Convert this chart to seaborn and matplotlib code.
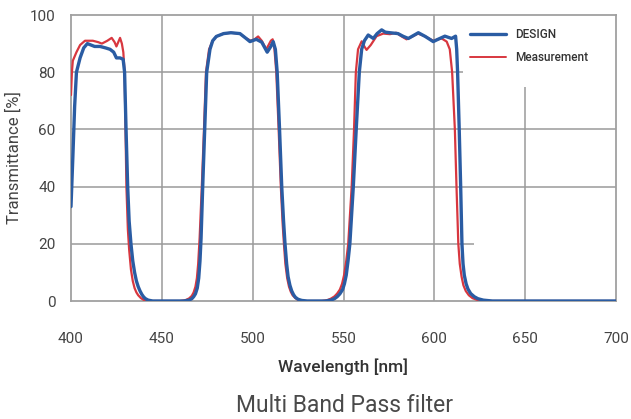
import matplotlib
matplotlib.use("Agg")
import matplotlib.pyplot as plt
import seaborn as sns
import pandas as pd
from matplotlib.lines import Line2D

# ---- data ----
design_wl = [400, 401, 402, 403, 405, 407, 409, 411, 413, 416, 419, 421.5, 423.5, 425, 427, 428.7,
             429.5, 430.3, 431.2, 432, 433, 434, 435, 436, 437, 438, 439, 440, 441, 442.5, 445,
             462, 465, 466.5, 467.5, 468.5, 469.5, 470.3, 471, 471.6, 472.5, 473.6, 474.7, 476.5,
             478, 480, 484, 488, 493, 496, 498.5, 502, 505, 508, 510, 511.3, 512.5,
             513.5, 514.8, 516, 517, 517.8, 518.7, 519.5, 520.5, 521.5, 522.5, 523.5, 525, 527, 530,
             540, 543, 545, 546.5, 548, 549.5, 550.5, 551.5, 552.5, 553.5, 555.4, 557, 558.7, 560,
             561.5, 563.6, 566.4, 568.5, 571, 573, 575.6, 580, 583, 585.7, 589, 591.2, 595, 599.4,
             602, 605.8, 609.5, 611.7, 612.3,
             612.8, 613.7, 614.5, 615.2, 615.8, 616.5, 617.5, 618.5, 620, 622, 624, 627, 632, 700]
design_t = [33, 50, 68, 80, 85, 88.5, 90, 89.5, 89, 89, 88.5, 88, 87, 85, 85, 84.5,
            80, 60, 40, 28, 20, 14, 10, 7, 5, 3.5, 2.3, 1.4, 0.8, 0.3, 0,
            0, 0.3, 0.8, 1.5, 2.5, 4.5, 8, 14, 22, 40, 60, 80, 88,
            91, 92.5, 93.5, 93.8, 93.5, 92, 90.7, 91.5, 90.5, 87, 89, 90.7, 88,
            80, 60, 40, 28, 20, 13, 8.5, 5.5, 3.5, 2.2, 1.3, 0.6, 0.2, 0,
            0, 0.3, 0.8, 1.5, 2.5, 4, 6, 9, 14, 20, 40, 60, 80, 88,
            91, 93, 91.8, 93.5, 94.8, 94, 93.8, 93.5, 92.5, 91.8, 93, 93.8, 92.5, 90.7,
            91.5, 92.6, 91.8, 92.6, 88,
            80, 60, 40, 20, 13, 9, 6, 4.2, 2.6, 1.5, 0.8, 0.3, 0, 0]

meas_wl = [400, 400.5, 401, 403, 405, 407.7, 412, 415, 417, 420, 422.4, 424, 425, 426, 427, 428,
           428.8, 429.5, 430, 430.5, 431.3, 432, 433, 434, 435, 436, 437, 438.5, 440, 442,
           460, 463, 465, 466.5, 467.5, 468.5, 469.3, 470, 470.8, 472, 473.2, 474.3, 476, 478,
           480, 484, 488, 493, 496, 499, 501, 503, 505, 507.5, 510, 511, 512,
           513, 514.3, 515.5, 516.5, 517.2, 518, 519, 520, 521, 522, 523.5, 525, 528,
           538, 541, 543, 545, 546.5, 548, 549.2, 550.3, 551.5, 552.6, 554.5, 555.8, 556.8, 558,
           560, 561.5, 562.7, 565, 568.2, 571.9, 575.6, 579, 582, 584.7, 588, 591, 595, 599.4,
           602, 604, 606.8, 608.5,
           609.8, 611.3, 612.2, 613.2, 614, 615, 616, 617.3, 619, 621, 623.5, 627, 700]
meas_t = [72, 80, 84, 87, 89.5, 91, 91, 90.5, 90, 91, 92, 90.5, 89, 90.5, 92, 90,
          87, 80, 60, 40, 25, 18, 11, 7, 4.5, 3, 2, 1, 0.4, 0,
          0, 0.3, 0.9, 1.8, 3, 5, 8, 13, 22, 40, 60, 80, 88, 91,
          92.5, 93.5, 93.8, 93.5, 92, 91, 91.5, 92.5, 91, 88, 91, 91.5, 88,
          80, 60, 40, 27, 20, 13, 8, 5, 3.2, 2, 1, 0.4, 0,
          0, 0.3, 0.8, 1.6, 2.6, 4, 6, 9, 14, 20, 40, 60, 80, 88,
          90.8, 89, 87.8, 89.5, 92.6, 93.5, 93.3, 93.8, 92.5, 91.5, 92.5, 93.5, 92.5, 91,
          91.5, 91.8, 90.7, 88,
          80, 60, 40, 20, 13, 8.5, 5.5, 3.5, 2, 1, 0.4, 0, 0]

x_ticks = [400, 450, 500, 550, 600, 650, 700]
y_ticks = [0, 20, 40, 60, 80, 100]
series_names = ["DESIGN", "Measurement"]
series_colors = ["#2a5ca3", "#d8373f"]

# ---- plot ----
sns.set_theme(style="white")
plt.rcParams["font.family"] = ["Roboto", "DejaVu Sans"]

fig = plt.figure(figsize=(6.31, 4.19), dpi=100)
ax = fig.add_axes([71 / 631, 1 - 301 / 419, 545 / 631, 286 / 419])

grid_c = "#9a9a9a"
# grid (partially hidden in the original, legend area)
for y in [20, 40, 60, 80]:
    xmax = {80: 616, 20: 622}.get(y, 700)
    ax.hlines(y, 400, xmax, color=grid_c, lw=1.1, zorder=0)
for x in [450, 500, 550, 600]:
    ax.vlines(x, 0, 100, color=grid_c, lw=1.1, zorder=0)
ax.vlines(650, 0, 75, color=grid_c, lw=1.1, zorder=0)

df_m = pd.DataFrame({"wl": meas_wl, "T": meas_t})
df_d = pd.DataFrame({"wl": design_wl, "T": design_t})
sns.lineplot(data=df_m, x="wl", y="T", ax=ax, color=series_colors[1], lw=1.6,
             sort=False, estimator=None, zorder=3)
sns.lineplot(data=df_d, x="wl", y="T", ax=ax, color=series_colors[0], lw=2.4,
             sort=False, estimator=None, zorder=4)

ax.set_xlim(400, 700)
ax.set_ylim(0, 100)
ax.set_xticks(x_ticks)
ax.set_yticks(y_ticks)
ax.tick_params(axis="x", length=0, pad=22, labelsize=11, labelcolor="#444444")
ax.tick_params(axis="y", length=0, pad=11, labelsize=11, labelcolor="#444444")
for s in ax.spines.values():
    s.set_color("#a0a0a0")
    s.set_linewidth(1.3)

ax.set_xlabel("Wavelength [nm]", fontsize=12.5, color="#333333", fontweight="medium", labelpad=9)
ax.set_ylabel("Transmittance [%]", fontsize=12, color="#444444", labelpad=6)

handles = [Line2D([], [], color=series_colors[0], lw=2.4),
           Line2D([], [], color=series_colors[1], lw=1.4)]
leg = ax.legend(handles, series_names, loc="upper left", bbox_to_anchor=(0.712, 0.99),
                frameon=False, handlelength=3.1, handletextpad=0.75, labelspacing=0.8,
                prop={"size": 8.5, "weight": "medium"})
for t in leg.get_texts():
    t.set_color("#333333")

fig.text(345 / 631, 1 - 405 / 419, "Multi Band Pass filter", ha="center", va="center",
         fontsize=16.5, color="#4a4a4a")

fig.savefig("out.png", dpi=100)
